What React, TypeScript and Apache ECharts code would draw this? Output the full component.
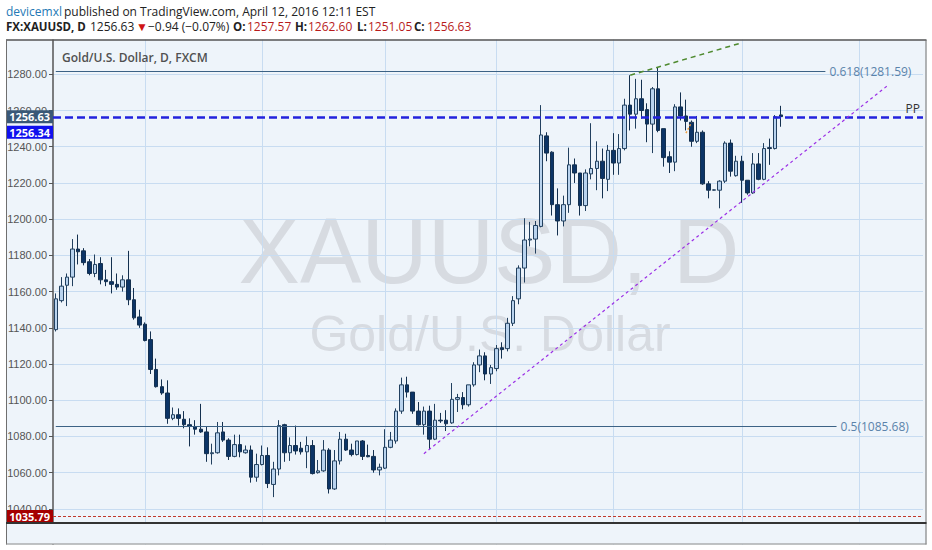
import { useEffect, useRef } from 'react';
import * as echarts from 'echarts';

// daily XAUUSD bars, Oct 9 2015 .. Apr 12 2016 as [open, close, low, high]
const ohlc: number[][] = [
  [1139, 1156, 1138, 1159],
  [1155, 1163, 1154, 1168],
  [1163.5, 1168, 1152, 1170],
  [1168, 1183.5, 1163, 1189],
  [1183.5, 1182, 1175, 1191.5],
  [1182.5, 1176, 1174.5, 1184],
  [1176.5, 1170, 1169, 1178],
  [1170, 1175, 1168, 1180.5],
  [1175.5, 1166.5, 1164, 1179],
  [1166.5, 1165.5, 1163, 1172],
  [1165.5, 1164, 1159, 1179],
  [1164, 1162.5, 1161, 1170],
  [1162.5, 1166.5, 1160, 1169],
  [1166.5, 1155.5, 1152.5, 1182.5],
  [1155.5, 1145.5, 1144.5, 1162],
  [1146, 1141.5, 1140, 1150],
  [1142, 1133, 1132.5, 1143],
  [1133.5, 1117, 1114.5, 1138],
  [1117, 1107.5, 1107, 1123],
  [1107.5, 1104, 1103, 1111.5],
  [1104, 1090, 1087, 1111],
  [1090, 1092, 1089, 1096],
  [1092, 1090, 1086, 1095.5],
  [1089.5, 1086.5, 1084.5, 1094],
  [1086.5, 1085.5, 1074.5, 1090],
  [1085.5, 1084, 1081, 1089],
  [1084, 1082.5, 1082, 1098],
  [1082.5, 1070.5, 1066, 1085.5],
  [1070.5, 1071, 1064.5, 1076],
  [1071, 1082, 1070.5, 1088],
  [1082.5, 1078, 1077, 1088],
  [1078, 1069, 1067, 1079],
  [1069, 1075.5, 1068.5, 1081],
  [1075.5, 1071.5, 1068.5, 1081],
  [1071, 1072.5, 1070.5, 1075],
  [1072.5, 1057.5, 1054.5, 1075],
  [1057.5, 1064.5, 1055, 1070.5],
  [1064.5, 1069.5, 1064, 1075],
  [1069.5, 1054, 1051.5, 1074],
  [1053.5, 1062, 1046.5, 1066],
  [1062, 1086, 1058.5, 1089],
  [1086.5, 1071, 1066, 1087],
  [1071, 1075, 1066.5, 1079.5],
  [1075, 1072, 1070, 1086],
  [1073.5, 1071.5, 1070, 1077],
  [1071.5, 1075, 1062.5, 1080],
  [1075, 1059.5, 1059, 1078],
  [1060, 1061, 1059.5, 1067],
  [1061, 1072.5, 1060.5, 1078],
  [1072.5, 1051, 1048.5, 1073.5],
  [1051, 1066.5, 1050.5, 1072.5],
  [1066.5, 1078.5, 1064.5, 1082.5],
  [1078.5, 1072.5, 1072, 1081.5],
  [1072.5, 1070, 1069, 1076],
  [1070, 1077.5, 1069.5, 1077.5],
  [1077.5, 1069, 1067, 1078],
  [1069.5, 1068.8, 1068.5, 1075.5],
  [1069, 1061.5, 1060, 1072.5],
  [1061.5, 1063, 1058.5, 1065],
  [1062.5, 1074, 1062, 1084],
  [1074, 1078, 1073.5, 1082.5],
  [1077.5, 1094, 1076, 1095.5],
  [1094, 1108.5, 1092.5, 1112.5],
  [1108.5, 1104.5, 1101.5, 1113],
  [1104.5, 1094, 1092.5, 1104.5],
  [1094, 1086.5, 1086, 1099],
  [1086.5, 1094, 1081, 1096.5],
  [1094, 1078.5, 1073, 1097],
  [1078.5, 1089, 1078, 1098],
  [1089, 1088.6, 1087.5, 1093],
  [1089, 1087, 1083, 1094.5],
  [1087.5, 1100.5, 1087, 1109.5],
  [1100.5, 1101.5, 1093.5, 1103.5],
  [1101.5, 1097.5, 1095, 1104.5],
  [1097.5, 1108.5, 1096.5, 1108.5],
  [1108.5, 1119.5, 1107.5, 1121],
  [1119.5, 1124.5, 1115.5, 1128],
  [1124.5, 1114.5, 1111, 1126.5],
  [1114.5, 1118, 1109, 1119.5],
  [1117.5, 1128.5, 1116, 1130.5],
  [1129, 1128, 1123, 1132],
  [1128.5, 1142.5, 1127, 1145.5],
  [1142.5, 1155, 1141, 1157.5],
  [1156, 1173, 1153, 1174.5],
  [1173, 1188.5, 1165, 1200.5],
  [1188.5, 1189, 1185, 1198.5],
  [1189, 1196.5, 1181, 1199],
  [1196, 1246.5, 1195.5, 1263],
  [1246, 1236.5, 1232, 1248],
  [1237, 1208, 1202, 1237.5],
  [1208, 1199, 1191, 1217],
  [1199, 1208, 1196, 1213],
  [1208, 1230, 1203.5, 1239.5],
  [1230, 1225.5, 1220, 1233.5],
  [1225.5, 1207.5, 1202, 1225.5],
  [1207.5, 1225.5, 1204.5, 1227.5],
  [1225, 1228, 1222, 1253],
  [1228, 1232, 1216, 1243],
  [1232, 1222.5, 1211.5, 1239],
  [1222, 1238, 1215.5, 1241],
  [1238, 1231, 1224.5, 1247.5],
  [1231, 1239, 1224.5, 1247],
  [1239, 1263, 1238, 1266.5],
  [1263, 1258, 1249, 1279.5],
  [1258, 1266.5, 1250, 1277.5],
  [1266.5, 1260, 1255.5, 1277],
  [1260.5, 1252.5, 1242.5, 1264],
  [1252.5, 1272, 1236.5, 1273],
  [1272, 1249, 1248, 1284],
  [1250, 1234, 1229, 1250],
  [1234.5, 1231.5, 1225.5, 1237.5],
  [1231.5, 1262, 1226.5, 1263.5],
  [1262, 1257, 1254.5, 1270],
  [1257, 1254, 1249, 1266],
  [1253.5, 1243, 1240, 1254.5],
  [1243, 1248, 1242, 1257],
  [1248, 1219.5, 1219, 1249],
  [1219.5, 1216, 1211.5, 1221],
  [1216, 1216.2, 1215.8, 1216.4],
  [1216, 1221, 1206, 1221.5],
  [1221, 1242, 1220, 1243],
  [1242, 1226.5, 1223.5, 1244],
  [1224, 1232, 1223.5, 1235],
  [1232, 1221.5, 1209, 1235],
  [1221.5, 1214.5, 1213.5, 1221.5],
  [1214.5, 1230.5, 1214, 1236.5],
  [1230.5, 1222, 1221.5, 1236.5],
  [1222, 1239, 1221.5, 1242],
  [1239.5, 1239, 1230, 1244.5],
  [1239, 1256.5, 1238.5, 1257.5],
  [1257.57, 1256.63, 1251.05, 1262.6],
];

const slotCount = 156; // bars plus the empty space on the right
const monthStarts = [16, 37, 59, 79, 100, 123, 144];

const fibLevels = [
  { text: '0.618(1281.59)', value: 1281.59, endBar: 138 },
  { text: '0.5(1085.68)', value: 1085.68, endBar: 140 },
];
const pivot = 1256.34;
const lastPrice = 1256.63;
const lowLevel = 1035.79;
const trendSupport = [[66, 1070.5], [149, 1273.4]];
const trendHighs = [[103, 1279.5], [123, 1297.4]];
const orangeMark = [[113, 1247.5], [114, 1253.5]];

// header pieces: [text, x, kind]
const headerLine1: [string, number, string][] = [
  ['devicemxl', 6, 'user'],
  ['published on TradingView.com, April 12, 2016 12:11 EST', 64, 'plain'],
];
const headerLine2: [string, number, string][] = [
  ['FX:XAUUSD, D', 6, 'bold'],
  ['1256.63', 90, 'plain'],
  ['▼', 136, 'down'],
  ['−0.94 (−0.07%)', 148, 'plain'],
  ['O:', 233, 'bold'],
  ['1257.57', 247, 'red'],
  ['H:', 295, 'bold'],
  ['1262.60', 308, 'red'],
  ['L:', 357, 'bold'],
  ['1251.05', 368, 'red'],
  ['C:', 414, 'bold'],
  ['1256.63', 427, 'red'],
];

const plotBg = '#eef4fa';
const gridColor = '#c8dcf1';
const noLine = { color: 'rgba(0,0,0,0)', width: 0 };

export default function App() {
  const chartRef = useRef<HTMLDivElement>(null);

  useEffect(() => {
    if (!chartRef.current) return;
    const chart = echarts.init(chartRef.current, undefined, { renderer: 'svg' });
    const categories = Array.from({ length: slotCount }, (_, i) => String(i));

    const priceBox = (text: string, bg: string, dy = 0) => ({
      show: true,
      position: 'start',
      distance: 0,
      formatter: text,
      color: '#fff',
      fontSize: 11,
      fontWeight: 'bold',
      fontFamily: 'Open Sans',
      backgroundColor: bg,
      padding: [1, 3],
      offset: [0, dy],
    });

    const headerText = (line: [string, number, string][], y: number) =>
      line.map(([text, x, kind]) => ({
        type: 'text',
        x,
        y,
        z: 70,
        silent: true,
        style: {
          text,
          fontFamily: 'Open Sans',
          fontSize: kind === 'down' ? 12 : kind === 'bold' ? 11.5 : 12,
          fontWeight: kind === 'bold' ? 'bold' : 'normal',
          lineHeight: 13,
          fill:
            kind === 'user' ? '#2479b5' : kind === 'red' ? '#b81c1c' : kind === 'down' ? '#d01414' : '#222',
          textVerticalAlign: 'middle',
        },
      }));

    chart.setOption({
      animation: false,
      backgroundColor: plotBg,
      textStyle: { fontFamily: 'Open Sans, sans-serif' },
      grid: { left: 53, top: 38.1, width: 870, height: 507 },
      xAxis: {
        type: 'category',
        data: categories,
        boundaryGap: true,
        axisLine: { show: false },
        axisTick: { show: false },
        axisLabel: { show: false },
        splitLine: { show: false },
      },
      yAxis: {
        type: 'value',
        min: 1020,
        max: 1300,
        interval: 20,
        scale: true,
        axisLine: { show: true, lineStyle: { color: '#555', width: 1.5 } },
        axisTick: { show: true, length: 4, lineStyle: { color: '#555' } },
        axisLabel: {
          margin: 6,
          color: '#555',
          fontSize: 11,
          fontFamily: 'Liberation Sans, Arial',
          formatter: (v: number) => (v <= 1020 || v >= 1300 ? '' : v.toFixed(2)),
        },
        splitLine: { lineStyle: { color: gridColor, width: 1 } },
      },
      series: [
        {
          type: 'line',
          data: [],
          silent: true,
          markLine: {
            z: 1,
            silent: true,
            symbol: ['none', 'none'],
            label: { show: false },
            lineStyle: { color: gridColor, type: 'solid', width: 1 },
            data: monthStarts.map((i) => ({ xAxis: i })),
          },
        },
        {
          type: 'candlestick',
          data: ohlc,
          barWidth: 4,
          itemStyle: {
            color: '#b9d3ee',
            color0: '#0c3466',
            borderColor: '#22405f',
            borderColor0: '#14304f',
            borderWidth: 1,
          },
          markLine: {
            silent: true,
            symbol: ['none', 'none'],
            label: { show: false },
            data: [
              ...fibLevels.map((f) => [
                {
                  coord: [0, f.value],
                  lineStyle: { color: '#3c6285', width: 1, type: 'solid' },
                  label: {
                    show: true,
                    position: 'end',
                    distance: 4,
                    formatter: f.text,
                    color: '#5b83aa',
                    fontSize: 12,
                  },
                },
                { coord: [f.endBar, f.value] },
              ]),
              {
                yAxis: pivot,
                lineStyle: { color: '#2222dd', width: 2.5, type: [8, 4] },
                label: {
                  show: true,
                  position: 'insideEndTop',
                  formatter: 'PP',
                  color: '#333',
                  fontSize: 12,
                  distance: 3,
                },
              },
              { yAxis: pivot + 0.001, lineStyle: noLine, label: priceBox(pivot.toFixed(2), '#1010ee', 15) },
              { yAxis: lastPrice, lineStyle: noLine, label: priceBox(lastPrice.toFixed(2), '#3a5877') },
              {
                yAxis: lowLevel,
                lineStyle: { color: '#c0392b', width: 1, type: [3, 2] },
                label: priceBox(lowLevel.toFixed(2), '#a50000'),
              },
              [
                { coord: trendSupport[0], lineStyle: { color: '#9b2fe6', width: 1.2, type: [3, 3] } },
                { coord: trendSupport[1] },
              ],
              [
                { coord: trendHighs[0], lineStyle: { color: '#4e8a2e', width: 1.5, type: [5, 4] } },
                { coord: trendHighs[1] },
              ],
              [
                { coord: orangeMark[0], lineStyle: { color: '#f0a040', width: 1.5, type: [2, 2] } },
                { coord: orangeMark[1] },
              ],
            ],
          },
        },
      ],
      graphic: [
        // watermark
        {
          type: 'text', x: 489, y: 251, z: 0, silent: true,
          style: {
            text: 'XAUUSD, D', fill: '#d7dbe1', fontSize: 92, fontFamily: 'Liberation Sans',
            textAlign: 'center', textVerticalAlign: 'middle',
          },
        },
        {
          type: 'text', x: 490, y: 334, z: 0, silent: true,
          style: {
            text: 'Gold/U.S. Dollar', fill: '#d7dbe1', fontSize: 50, fontFamily: 'Liberation Sans',
            textAlign: 'center', textVerticalAlign: 'middle',
          },
        },
        {
          type: 'text', x: 62, y: 57, z: 10, silent: true,
          style: {
            text: 'Gold/U.S. Dollar, D, FXCM', fill: '#505050', fontSize: 12, fontWeight: 600,
            fontFamily: 'Open Sans', textVerticalAlign: 'middle',
          },
        },
        // covers outside the frame
        { type: 'rect', z: 50, silent: true, shape: { x: 0, y: 0, width: 932, height: 39.5 }, style: { fill: '#fff' } },
        { type: 'rect', z: 50, silent: true, shape: { x: 0, y: 0, width: 6, height: 550 }, style: { fill: '#fff' } },
        { type: 'rect', z: 50, silent: true, shape: { x: 926.5, y: 0, width: 6, height: 550 }, style: { fill: '#fff' } },
        { type: 'rect', z: 50, silent: true, shape: { x: 6, y: 524, width: 920, height: 20 }, style: { fill: plotBg } },
        { type: 'rect', z: 50, silent: true, shape: { x: 0, y: 544.5, width: 932, height: 6 }, style: { fill: '#fff' } },
        // frame
        { type: 'line', z: 60, silent: true, shape: { x1: 6, y1: 40, x2: 926.5, y2: 40 }, style: { stroke: '#555', lineWidth: 1.5 } },
        { type: 'line', z: 60, silent: true, shape: { x1: 6.5, y1: 40, x2: 6.5, y2: 544.5 }, style: { stroke: '#6f6f6f', lineWidth: 1 } },
        { type: 'line', z: 60, silent: true, shape: { x1: 926, y1: 40, x2: 926, y2: 544.5 }, style: { stroke: '#6f6f6f', lineWidth: 1 } },
        { type: 'line', z: 60, silent: true, shape: { x1: 6, y1: 544, x2: 926.5, y2: 544 }, style: { stroke: '#8a8a8a', lineWidth: 1 } },
        { type: 'line', z: 60, silent: true, shape: { x1: 6, y1: 523, x2: 926.5, y2: 523 }, style: { stroke: '#333', lineWidth: 2 } },
        // header
        ...headerText(headerLine1, 11),
        ...headerText(headerLine2, 26),
      ],
    });

    return () => chart.dispose();
  }, []);

  return <div ref={chartRef} style={{ position: 'fixed', left: 0, top: 0, width: 932, height: 550 }} />;
}
